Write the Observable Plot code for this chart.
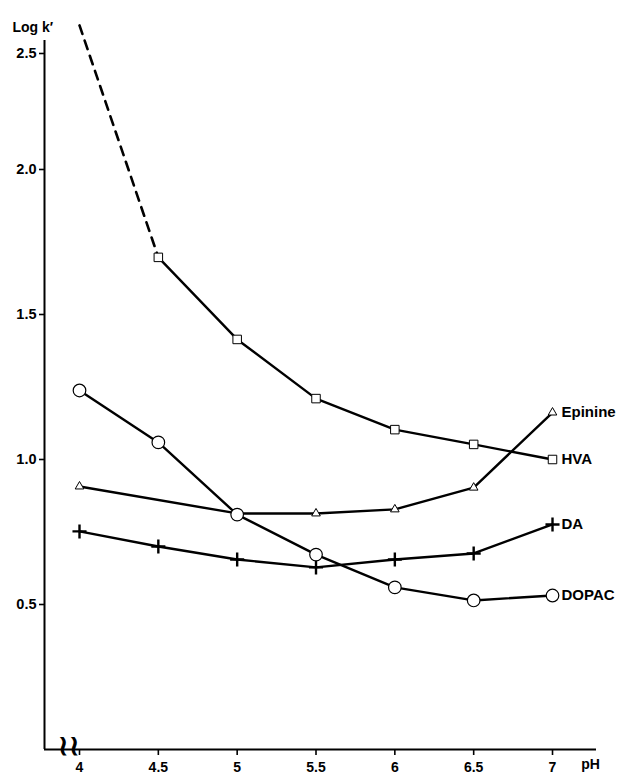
<!DOCTYPE html>
<html>
<head>
<meta charset="utf-8">
<script src="https://cdn.jsdelivr.net/npm/d3@7"></script>
<script src="https://cdn.jsdelivr.net/npm/@observablehq/plot@0.6"></script>
<style>
  html, body { margin: 0; padding: 0; background: #fff; }
  #chart svg { display: block; }
</style>
</head>
<body>
<div id="chart"></div>
<script>
// ---- data ----
const ph = [4, 4.5, 5, 5.5, 6, 6.5, 7];
const hva     = [null, 1.697, 1.414, 1.210, 1.103, 1.052, 1.000];
const epinine = [0.907, null, 0.814, 0.814, 0.828, 0.903, 1.162];
const da      = [0.752, 0.700, 0.655, 0.628, 0.655, 0.676, 0.776];
const dopac   = [1.238, 1.059, 0.810, 0.672, 0.559, 0.514, 0.531];
// extrapolated (dashed) part of HVA
const hvaDashedPh = [4, 4.5];
const hvaDashedValues = [2.621, 1.697];

const seriesNames = ["Epinine", "HVA", "DA", "DOPAC"];
const seriesSymbols = ["triangle", "square", "plus", "circle"];
const seriesValues = [epinine, hva, da, dopac];

const xTicks = [4, 4.5, 5, 5.5, 6, 6.5, 7];
const yTicks = [0.5, 1.0, 1.5, 2.0, 2.5];
const xDomain = [3.778, 7.279];
const yDomain = [0, 2.556];
const yLabel = "Log k\u2032";
const xLabel = "pH";

// the original axis is compressed above 2.0
const yWarp = v => (v <= 2 ? v : 2 + (v - 2) * 0.8);
const yUnwarp = t => (t <= 2 ? t : 2 + (t - 2) / 0.8);

// ---- build tables ----
const rows = [];
seriesNames.forEach((name, i) => {
  seriesValues[i].forEach((v, j) => {
    if (v != null) rows.push({series: name, ph: ph[j], v});
  });
});
const dashedRows = hvaDashedPh.map((p, j) => ({ph: p, v: hvaDashedValues[j]}));
const labelRows = seriesNames.map((name, i) => ({
  series: name, ph: ph[ph.length - 1], v: seriesValues[i][ph.length - 1]
}));

const font = "Liberation Sans, Arial, Helvetica, sans-serif";

const dotOpts = {
  "Epinine": {r: 3.2, strokeWidth: 1},
  "HVA": {r: 4.8, strokeWidth: 1},
  "DA": {r: 4.6, strokeWidth: 2.4},
  "DOPAC": {r: 6.3, strokeWidth: 1.2}
};

const fmt1 = d3.format(".1f");

const plot = Plot.plot({
  width: 621,
  height: 775,
  marginLeft: 44,
  marginRight: 25,
  marginTop: 40,
  marginBottom: 26,
  style: {fontFamily: font, background: "#fff", color: "#000"},
  x: {domain: xDomain},
  y: {transform: yWarp, domain: yDomain.map(yWarp)},
  marks: [
    // axis lines
    Plot.ruleY([0], {stroke: "#000", strokeWidth: 2}),
    Plot.ruleX([xDomain[0]], {stroke: "#000", strokeWidth: 2}),
    Plot.axisX({
      ticks: xTicks, tickSize: 6, tickPadding: 7, strokeWidth: 1.6,
      tickFormat: d => String(d), fontSize: 14, fontWeight: "bold", label: null
    }),
    Plot.axisY({
      ticks: yTicks.map(yWarp), tickSize: 5, tickPadding: 3, strokeWidth: 1.6,
      tickFormat: t => fmt1(yUnwarp(t)), fontSize: 14.5, fontWeight: "bold", label: null
    }),
    // axis break squiggle
    Plot.text(["\u2240\u2240"], {
      frameAnchor: "bottom-left", dx: 13, dy: 5, fontSize: 28, fontWeight: "bold",
      fill: "#000"
    }),
    // axis titles
    Plot.text([yLabel], {
      frameAnchor: "top-left", textAnchor: "start", dx: -32, dy: -18,
      fontSize: 14, fontWeight: "bold", fill: "#000"
    }),
    Plot.text([xLabel], {
      frameAnchor: "bottom-right", textAnchor: "middle", dx: -6, dy: 19,
      fontSize: 14, fontWeight: "bold", fill: "#000"
    }),
    // dashed extrapolation of HVA
    Plot.line(dashedRows, {x: "ph", y: "v", stroke: "#000", strokeWidth: 2.6,
      strokeDasharray: "9,7"}),
    // solid curves
    Plot.line(rows, {x: "ph", y: "v", z: "series", stroke: "#000", strokeWidth: 2.4}),
    // markers
    ...seriesNames.map((name, i) =>
      Plot.dot(rows.filter(d => d.series === name), {
        x: "ph", y: "v", symbol: seriesSymbols[i],
        fill: name === "DA" ? "none" : "#fff", stroke: "#000",
        r: dotOpts[name].r, strokeWidth: dotOpts[name].strokeWidth
      })
    ),
    // series labels
    Plot.text(labelRows, {
      x: "ph", y: "v", text: "series", textAnchor: "start", dx: 9,
      fontSize: 15, fontWeight: "bold", fill: "#000"
    })
  ]
});
document.getElementById("chart").appendChild(plot);
</script>
</body>
</html>
